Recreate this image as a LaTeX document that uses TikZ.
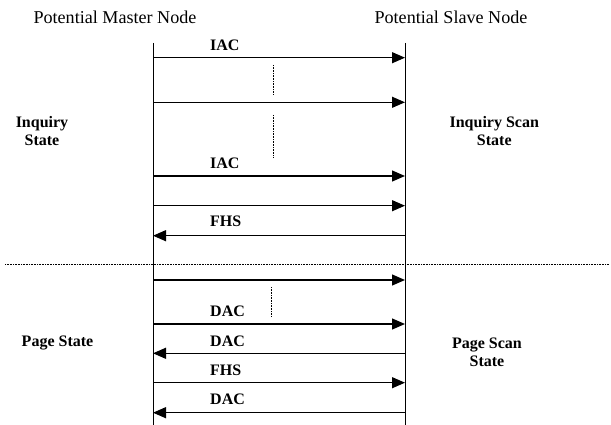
\documentclass[tikz,border=0pt]{standalone}
\usepackage{fontspec}
\setmainfont{Liberation Serif}
\usetikzlibrary{arrows.meta}
\tikzset{
  msg/.style={line width=1.2pt, -{Triangle[length=13pt,width=11pt]}},
  life/.style={line width=0.9pt},
  gap/.style={line width=0.6pt, dash pattern=on 0.8pt off 0.8pt},
  lbl/.style={font=\bfseries\fontsize{16}{18}\selectfont, anchor=west, inner sep=0pt},
  side/.style={font=\bfseries\fontsize{16}{18.5}\selectfont, align=center, inner sep=0pt},
  head/.style={font=\fontsize{18.1}{20}\selectfont, inner sep=0pt}
}

\begin{document}
\begin{tikzpicture}[x=1pt,y=-1pt]
		%%%%% START %%%%%
		\useasboundingbox (0,0) rectangle (611,425);
		
		\node[head] (master) at (115,17) {Potential Master Node};
		\node[head] (slave) at (451,17) {Potential Slave Node};
		
		\coordinate (mtop) at (153,43); \coordinate (mbot) at (153,425);
		\coordinate (stop) at (405,43); \coordinate (sbot) at (405,425);
		\draw[life] (mtop) -- (mbot);
		\draw[life] (stop) -- (sbot);
		
		%% inquiry
		\coordinate (m1) at (153,57.7); \coordinate (s1) at (405,57.7);
		\coordinate (m2) at (153,102.3); \coordinate (s2) at (405,102.3);
		\coordinate (m3) at (153,176); \coordinate (s3) at (405,176);
		\coordinate (m4) at (153,205.7); \coordinate (s4) at (405,205.7);
		\coordinate (m5) at (153,235.7); \coordinate (s5) at (405,235.7);
		
		\node[lbl] (iac1) at (210,45) {IAC};
		\draw[msg] (m1) -- (s1);
		\coordinate (g1a) at (273,65); \coordinate (g1b) at (273,94);
		\draw[gap] (g1a) -- (g1b);
		\draw[msg] (m2) -- (s2);
		\coordinate (g2a) at (273,115); \coordinate (g2b) at (273,158);
		\draw[gap] (g2a) -- (g2b);
		\node[lbl] (iac2) at (210,163.3) {IAC};
		\draw[msg] (m3) -- (s3);
		\draw[msg] (m4) -- (s4);
		\node[lbl] (fhs1) at (210,221.7) {FHS};
		\draw[msg] (s5) -- (m5);
		
		\node[side] (inq) at (42,131) {Inquiry\\State};
		\node[side] (inqscan) at (494.3,131) {Inquiry Scan\\State};
		
		%% border between the two phases
		\coordinate (bl) at (5,264.3); \coordinate (br) at (609,264.3);
		\draw[gap] (bl) -- (br);
		
		%% page
		\coordinate (m6) at (153,280); \coordinate (s6) at (405,280);
		\coordinate (m7) at (153,324); \coordinate (s7) at (405,324);
		\coordinate (m8) at (153,353.3); \coordinate (s8) at (405,353.3);
		\coordinate (m9) at (153,382.7); \coordinate (s9) at (405,382.7);
		\coordinate (m10) at (153,412.7); \coordinate (s10) at (405,412.7);
		
		\draw[msg] (m6) -- (s6);
		\coordinate (g3a) at (271,287); \coordinate (g3b) at (271,316);
		\draw[gap] (g3a) -- (g3b);
		\node[lbl] (dac1) at (210,311.7) {DAC};
		\draw[msg] (m7) -- (s7);
		\node[lbl] (dac2) at (210,341) {DAC};
		\draw[msg] (s8) -- (m8);
		\node[lbl] (fhs2) at (210,370) {FHS};
		\draw[msg] (m9) -- (s9);
		\node[lbl] (dac3) at (210,399) {DAC};
		\draw[msg] (s10) -- (m10);
		
		\node[side] (page) at (57.5,343.3) {Page State};
		\node[side] (pagescan) at (487,352.2) {Page Scan\\State};
		
		%%%%% END %%%%%
\end{tikzpicture}
\end{document}
